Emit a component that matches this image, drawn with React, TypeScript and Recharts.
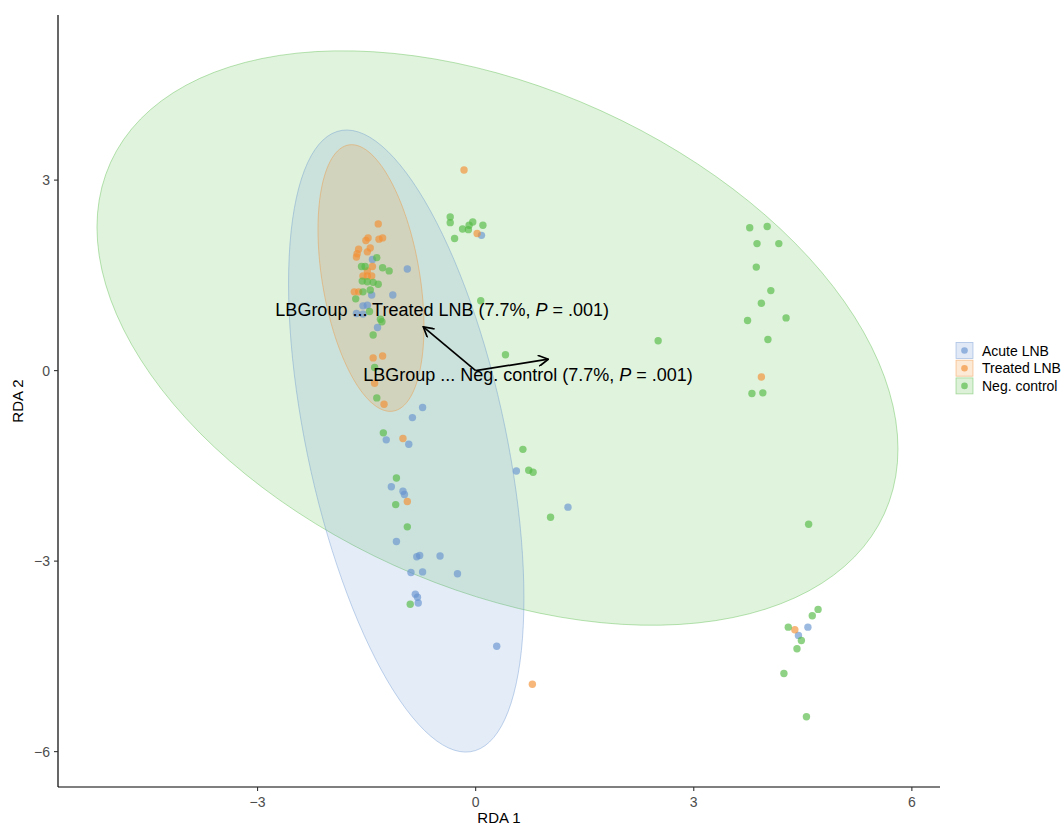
import React from 'react';
import { ScatterChart, Scatter, XAxis, YAxis } from 'recharts';

const groupNames = ['Acute LNB', 'Treated LNB', 'Neg. control'];
const groupColors = ['#6793D0', '#F28F33', '#53BA43'];

const acuteX = [0.08, -1.42, -0.94, -1.14, -1.43, -1.55, -1.49, -1.64, -1.55, -1.35, -0.73, -0.87, -1.23, -0.92, -1.16, -1.0, -0.98, -1.09, -0.81, -0.77, -0.49, -0.89, -0.73, -0.25, -0.83, -0.8, -0.79, 0.56, 1.27, 0.29, 4.57, 4.44];
const acuteY = [2.13, 1.75, 1.6, 1.19, 1.19, 1.02, 1.03, 0.9, 0.89, 0.68, -0.58, -0.74, -1.09, -1.16, -1.83, -1.9, -1.95, -2.69, -2.93, -2.91, -2.92, -3.18, -3.17, -3.2, -3.52, -3.57, -3.66, -1.58, -2.15, -4.34, -4.04, -4.17];

const treatedX = [-0.16, 0.02, -1.34, -1.48, -1.51, -1.33, -1.28, -1.61, -1.45, -1.49, -1.63, -1.64, -1.42, -1.49, -1.55, -1.49, -1.43, -1.67, -1.61, -1.41, -1.28, -1.39, -1.26, -1.0, -0.94, 0.78, 3.93, 4.39];
const treatedY = [3.16, 2.16, 2.31, 2.09, 2.05, 2.07, 2.09, 1.91, 1.93, 1.87, 1.84, 1.79, 1.64, 1.57, 1.49, 1.49, 1.49, 1.24, 1.24, 0.2, 0.23, -0.2, -0.53, -1.07, -2.06, -4.94, -0.1, -4.08];

const controlX = [-0.35, -0.35, -0.18, -0.1, -0.09, -0.04, 0.1, -0.29, 0.07, -1.57, -1.52, -1.36, -1.28, -1.19, -1.56, -1.49, -1.41, -1.34, -1.55, -1.45, -1.65, -1.46, -1.31, -1.29, -1.41, -1.39, -1.36, -1.27, -1.09, -1.1, -0.94, -0.9, 0.65, 0.73, 0.79, 1.03, 2.51, 0.41, 3.77, 4.01, 3.87, 4.17, 3.86, 4.06, 3.93, 3.74, 4.27, 4.02, 3.8, 3.95, 4.58, 4.71, 4.63, 4.3, 4.48, 4.42, 4.24, 4.55];
const controlY = [2.42, 2.33, 2.23, 2.22, 2.29, 2.34, 2.29, 2.08, 1.1, 1.64, 1.64, 1.78, 1.62, 1.57, 1.41, 1.4, 1.39, 1.36, 1.24, 1.27, 1.13, 0.93, 0.81, 0.77, 0.56, 0.05, -0.43, -0.98, -1.69, -2.11, -2.46, -3.68, -1.24, -1.57, -1.6, -2.31, 0.47, 0.25, 2.25, 2.27, 2.0, 2.0, 1.63, 1.26, 1.06, 0.79, 0.83, 0.49, -0.36, -0.35, -2.42, -3.76, -3.86, -4.04, -4.25, -4.38, -4.77, -5.45];

// ellipse parameters (centre, spread, correlation) per group
const ellipseCenterX = [-0.955, -1.44, 0.3];
const ellipseCenterY = [-1.109, 1.458, 0.513];
const ellipseSdX = [1.619, 0.729, 5.509];
const ellipseSdY = [4.898, 2.1, 4.523];
const ellipseCorr = [-0.506, -0.364, -0.386];

// biplot arrows and their labels
const arrowEndX = [-0.72, 1.0];
const arrowEndY = [0.69, 0.18];
const labelX = [-0.46, 0.72];
const labelY = [0.95, -0.07];
const labelLevel = ['Treated LNB', 'Neg. control'];
const labelPct = ['7.7%', '7.7%'];
const labelP = ['.001', '.001'];

const xTicks = [-3, 0, 3, 6];
const yTicks = [-6, -3, 0, 3];
const xDomain = [-5.745, 6.387];
const yDomain = [-6.557, 5.6];

const groupsX = [acuteX, treatedX, controlX];
const groupsY = [acuteY, treatedY, controlY];

const points = (xs: number[], ys: number[]) => xs.map((x, i) => ({ x, y: ys[i] }));

const ellipsePolygon = (g: number) => {
  const out: { x: number; y: number }[] = [];
  const n = 120;
  const r = ellipseCorr[g];
  for (let i = 0; i <= n; i++) {
    const t = (i / n) * 2 * Math.PI;
    const u = Math.cos(t);
    const v = Math.sin(t);
    out.push({
      x: ellipseCenterX[g] + ellipseSdX[g] * u,
      y: ellipseCenterY[g] + ellipseSdY[g] * (r * u + Math.sqrt(1 - r * r) * v),
    });
  }
  return out;
};

const labelData = labelX.map((x, i) => ({ x, y: labelY[i], level: labelLevel[i], pct: labelPct[i], p: labelP[i] }));

const fmt = (v: number) => (v < 0 ? '\u2212' + Math.abs(v) : String(v));
const FONT = '"Liberation Sans", Arial, Helvetica, sans-serif';

const XTick = (props: any) => {
  const { x, y, payload } = props;
  return (
    <text x={x} y={y + 14} textAnchor="middle" fontSize={14} fill="#4D4D4D" fontFamily={FONT}>
      {fmt(payload.value)}
    </text>
  );
};
const YTick = (props: any) => {
  const { x, y, payload } = props;
  return (
    <text x={x - 2} y={y + 5} textAnchor="end" fontSize={14} fill="#4D4D4D" fontFamily={FONT}>
      {fmt(payload.value)}
    </text>
  );
};

export default function App() {
  const order = [2, 0, 1];
  return (
    <div style={{ position: 'absolute', left: 0, top: 0, width: 1064, height: 826, fontFamily: FONT, background: '#fff' }}>
      <svg width={0} height={0} style={{ position: 'absolute' }}>
        <defs>
          <marker id="rdaArrow" viewBox="0 0 12 12" refX={11} refY={6} markerWidth={12} markerHeight={12} markerUnits="userSpaceOnUse" orient="auto">
            <path d="M1,0.4 L11,6 L1,11.6" fill="none" stroke="#000" strokeWidth={1.7} />
          </marker>
        </defs>
      </svg>
      <ScatterChart width={1064} height={826} margin={{ top: 15, right: 124, bottom: 9, left: 10 }}>
        <XAxis
          type="number"
          dataKey="x"
          domain={xDomain}
          ticks={xTicks}
          allowDataOverflow
          height={30}
          tickSize={4}
          axisLine={{ stroke: '#000', strokeWidth: 1.2 }}
          tickLine={{ stroke: '#333', strokeWidth: 1.1 }}
          tick={<XTick />}
          label={{
            content: (props: any) => {
              const vb = props.viewBox || {};
              return (
                <text x={vb.x + vb.width / 2} y={vb.y + 36} textAnchor="middle" fontSize={15} fill="#000">
                  RDA 1
                </text>
              );
            },
          }}
        />
        <YAxis
          type="number"
          dataKey="y"
          domain={yDomain}
          ticks={yTicks}
          allowDataOverflow
          width={48}
          tickSize={4}
          axisLine={{ stroke: '#000', strokeWidth: 1.2 }}
          tickLine={{ stroke: '#333', strokeWidth: 1.1 }}
          tick={<YTick />}
          label={{
            content: (props: any) => {
              const vb = props.viewBox || {};
              const cy = vb.y + vb.height / 2;
              return (
                <text x={23} y={cy} textAnchor="middle" fontSize={15} fill="#000" transform={`rotate(-90, 23, ${cy})`}>
                  RDA 2
                </text>
              );
            },
          }}
        />
        {order.map((g) => (
          <Scatter
            key={'ell' + g}
            data={ellipsePolygon(g)}
            isAnimationActive={false}
            fill={groupColors[g]}
            lineType="joint"
            line={{ fill: groupColors[g], fillOpacity: 0.18, stroke: groupColors[g], strokeOpacity: 0.5, strokeWidth: 0.8 }}
            shape={() => <g />}
          />
        ))}
        {[0, 1, 2].map((g) => (
          <Scatter
            key={'pts' + g}
            name={groupNames[g]}
            data={points(groupsX[g], groupsY[g])}
            isAnimationActive={false}
            fill={groupColors[g]}
            shape={(p: any) => <circle cx={p.cx} cy={p.cy} r={3.7} fill={groupColors[g]} fillOpacity={0.65} />}
          />
        ))}
        {arrowEndX.map((ex, i) => (
          <Scatter
            key={'arr' + i}
            data={[{ x: 0, y: 0 }, { x: ex, y: arrowEndY[i] }]}
            isAnimationActive={false}
            fill="#000"
            lineType="joint"
            line={{ stroke: '#000', strokeWidth: 1.7, markerEnd: 'url(#rdaArrow)' }}
            shape={() => <g />}
          />
        ))}
        <Scatter
          data={labelData}
          isAnimationActive={false}
          fill="#000"
          shape={(p: any) => {
            const d = p.payload || p;
            return (
              <text x={p.cx} y={p.cy} textAnchor="middle" dominantBaseline="central" fontSize={18} fill="#000">
                {'LBGroup ... ' + d.level + ' (' + d.pct + ', '}
                <tspan fontStyle="italic">P</tspan>
                {' = ' + d.p + ')'}
              </text>
            );
          }}
        />
      </ScatterChart>
      <svg width={110} height={60} style={{ position: 'absolute', left: 954, top: 341 }}>
        {[0, 1, 2].map((g) => (
          <g key={g} transform={`translate(0, ${g * 17.7})`}>
            <rect x={2} y={1.5} width={17} height={16} fill={groupColors[g]} fillOpacity={0.2} stroke={groupColors[g]} strokeOpacity={0.5} strokeWidth={0.8} />
            <circle cx={10.5} cy={9.5} r={3.3} fill={groupColors[g]} fillOpacity={0.65} />
            <text x={28} y={14.5} fontSize={14} fill="#000" fontFamily={FONT}>
              {groupNames[g]}
            </text>
          </g>
        ))}
      </svg>
    </div>
  );
}
